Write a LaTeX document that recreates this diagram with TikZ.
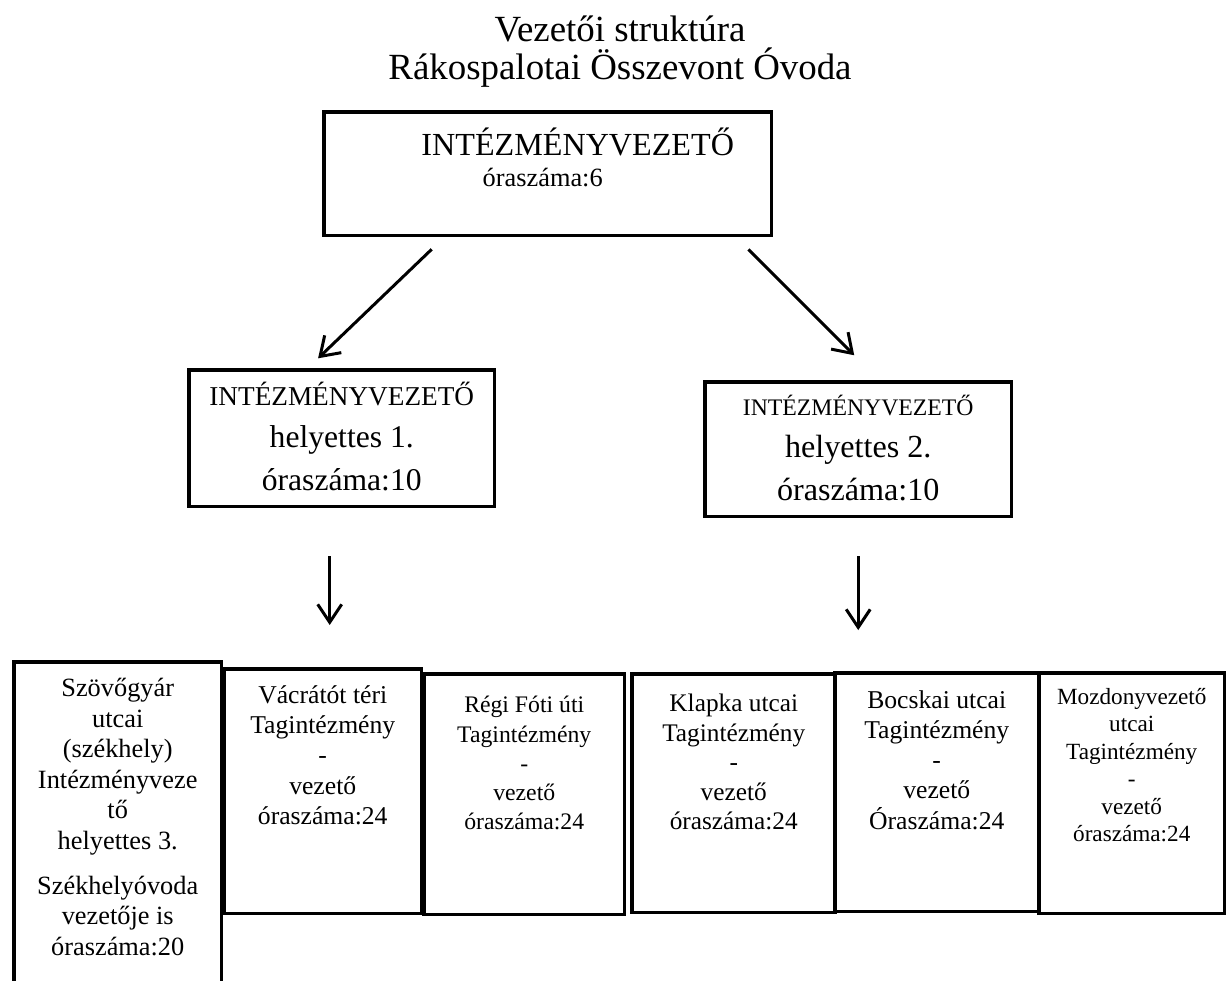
\documentclass[tikz,border=0pt]{standalone}
\usepackage{fontspec}
\setmainfont{Liberation Serif}
\usetikzlibrary{positioning,arrows.meta}

\begin{document}
\begin{tikzpicture}[x=0.02cm,y=-0.02cm,
    box/.style={draw,line width=2pt,anchor=north west,inner sep=0pt},
    txt/.style={align=center,inner sep=0pt,anchor=north},
    arr/.style={line width=1.7pt,-{Straight Barb[length=0.36cm,width=0.48cm]}}]
      \useasboundingbox (0,0) rectangle (1226,980);
      \clip (0,0) rectangle (1226,980);

      \node[txt,font=\fontsize{21}{21.8}\selectfont] (title) at (620,15) {Vezetői struktúra\\Rákospalotai Összevont Óvoda};

      \node[box,minimum width=8.96cm,minimum height=2.48cm] (top) at (322,110) {};
      \node[txt,font=\fontsize{18.3}{22.5}\selectfont,below=0.36cm of top.north,xshift=0.6cm] (toptext) {INTÉZMÉNYVEZETŐ};
      \node[txt,font=\fontsize{15}{18}\selectfont,below=0.22cm of toptext.south,xshift=-0.7cm] (tophours) {óraszáma:6};

      \node[box,minimum width=6.12cm,minimum height=2.74cm] (dl) at (187,368) {};
      \node[txt,font=\fontsize{18}{24}\selectfont,below=0.28cm of dl.north] (dltext) {{\fontsize{15.5}{18}\selectfont INTÉZMÉNYVEZETŐ}\\helyettes 1.\\óraszáma:10};

      \node[box,minimum width=6.14cm,minimum height=2.7cm] (dr) at (703,380) {};
      \node[txt,font=\fontsize{18.3}{24}\selectfont,below=0.3cm of dr.north] (drtext) {{\fontsize{13.5}{16}\selectfont INTÉZMÉNYVEZETŐ}\\helyettes 2.\\óraszáma:10};

      \node[box,minimum width=4.16cm,minimum height=6.8cm] (szov) at (12,660) {};
      \node[box,minimum width=3.96cm,minimum height=4.9cm] (vac) at (222,667) {};
      \node[box,minimum width=4.02cm,minimum height=4.82cm] (regi) at (422,672) {};
      \node[box,minimum width=4.08cm,minimum height=4.78cm] (klap) at (630,672) {};
      \node[box,minimum width=4.08cm,minimum height=4.78cm] (bocs) at (833,671) {};
      \node[box,minimum width=3.72cm,minimum height=4.82cm] (mozd) at (1037,671) {};

      \node[txt,font=\fontsize{15}{17.4}\selectfont,below=0.36cm of szov.north] (szovtext) {Szövőgyár\\utcai\\(székhely)\\Intézményveze\\tő\\helyettes 3.\\[8pt]Székhelyóvoda\\vezetője is\\óraszáma:20};
      \node[txt,font=\fontsize{14.6}{17.3}\selectfont,below=0.36cm of vac.north] (vactext) {Vácrátót téri\\Tagintézmény\\-\\vezető\\óraszáma:24};
      \node[txt,font=\fontsize{13.5}{16.6}\selectfont,below=0.48cm of regi.north] (regitext) {Régi Fóti úti\\Tagintézmény\\-\\vezető\\óraszáma:24};
      \node[txt,font=\fontsize{14.4}{16.8}\selectfont,below=0.44cm of klap.north] (klaptext) {Klapka utcai\\Tagintézmény\\-\\vezető\\óraszáma:24};
      \node[txt,font=\fontsize{14.6}{17.2}\selectfont,below=0.38cm of bocs.north] (bocstext) {Bocskai utcai\\Tagintézmény\\-\\vezető\\Óraszáma:24};
      \node[txt,font=\fontsize{13.2}{15.6}\selectfont,below=0.34cm of mozd.north] (mozdtext) {Mozdonyvezető\\utcai\\Tagintézmény\\-\\vezető\\óraszáma:24};

      \draw[arr,shorten <=0.34cm,shorten >=0.28cm] ([xshift=2.44cm]top.south west) -- ([xshift=2.42cm]dl.north west);
      \draw[arr,shorten <=0.34cm,shorten >=0.7cm] ([xshift=-0.74cm]top.south east) -- ([xshift=3.52cm]dr.north west);
      \draw[arr,shorten <=0.96cm,shorten >=0.84cm] ([xshift=-0.24cm]dl.south) -- ([xshift=-0.24cm]dl.south |- vac.north);
      \draw[arr,shorten <=0.76cm,shorten >=0.82cm] (dr.south) -- (dr.south |- bocs.north);
\end{tikzpicture}
\end{document}
